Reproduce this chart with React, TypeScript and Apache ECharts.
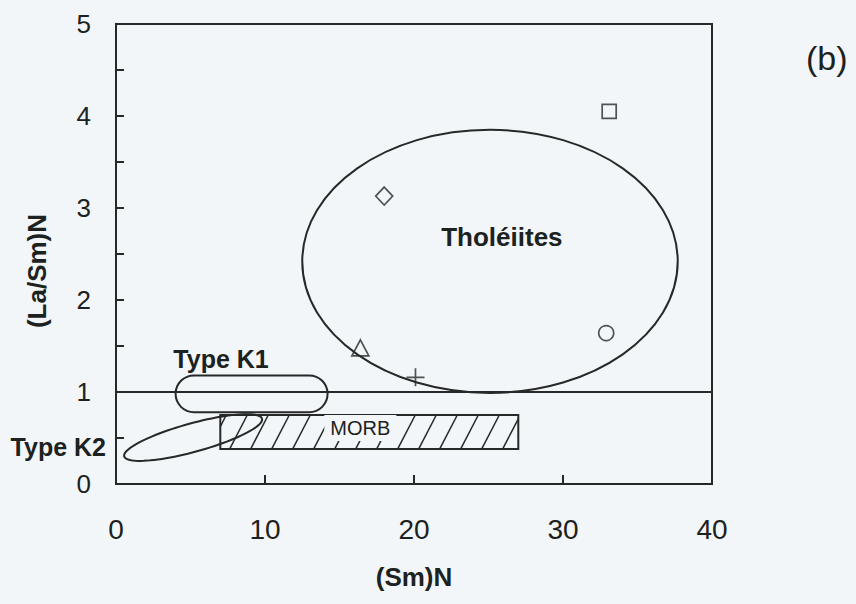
import React, { useEffect, useRef } from "react";
import * as echarts from "echarts";

// Axis ranges and ticks
const xTicks = [0, 10, 20, 30, 40];
const yTicks = [0, 1, 2, 3, 4, 5];

// Samples: [(Sm)N, (La/Sm)N]
const squareSample = [[33.1, 4.05]];
const diamondSample = [[18.0, 3.13]];
const circleSample = [[32.9, 1.64]];
const triangleSample = [[16.4, 1.48]];
const plusSample = [[20.1, 1.16]];

// Reference fields, in data units
const tholeiiteCentre = [25.1, 2.42];
const tholeiiteRadii = [12.6, 1.43];
const k1Box = [4.0, 0.78, 14.2, 1.18]; // xMin, yMin, xMax, yMax
const morbBox = [7.0, 0.38, 27.0, 0.75]; // xMin, yMin, xMax, yMax
const k2Tips = [[0.55, 0.3], [9.8, 0.71]]; // ends of the long axis
const k2Flatness = 0.2; // minor / major
const chondriteLine = [[0, 1], [40, 1]];

// Field names and where they sit
const fieldNames = ["Tholéiites", "Type K1", "Type K2", "MORB"];
const fieldNameAt = [[25.9, 2.68], [7.05, 1.36], [-0.27, 0.4], [16.4, 0.61]];

const INK = "#262928";
const TEXT = "#1c2220";
const PAPER = "#f3f6f8";
const FONT = "'Liberation Sans', Arial, Helvetica, sans-serif";

function renderFields(params: any, api: any) {
  const children: any[] = [];
  const stroke = { stroke: INK, lineWidth: 2, fill: null };

  // (La/Sm)N = 1 reference line
  const l0 = api.coord(chondriteLine[0]);
  const l1 = api.coord(chondriteLine[1]);
  children.push({
    type: "line",
    shape: { x1: l0[0], y1: l0[1], x2: l1[0], y2: l1[1] },
    style: { stroke: INK, lineWidth: 2 },
  });

  // MORB: hatched box
  const m0 = api.coord([morbBox[0], morbBox[3]]);
  const m1 = api.coord([morbBox[2], morbBox[1]]);
  const left = m0[0], top = m0[1], right = m1[0], bottom = m1[1];
  const h = bottom - top;
  const lean = h * 0.52;
  const step = 21;
  for (let s = left - lean + 6; s < right; s += step) {
    let xa = s, ya = bottom;
    let xb = s + lean, yb = top;
    if (xa < left) {
      ya = bottom - ((left - s) / lean) * h;
      xa = left;
    }
    if (xb > right) {
      yb = bottom - ((right - s) / lean) * h;
      xb = right;
    }
    if (xb <= xa) continue;
    children.push({
      type: "line",
      shape: { x1: xa, y1: ya, x2: xb, y2: yb },
      style: { stroke: INK, lineWidth: 1.5 },
    });
  }
  children.push({
    type: "rect",
    shape: { x: left, y: top, width: right - left, height: h },
    style: { ...stroke },
  });

  // Type K1: rounded box
  const k0 = api.coord([k1Box[0], k1Box[3]]);
  const k1 = api.coord([k1Box[2], k1Box[1]]);
  const kh = k1[1] - k0[1];
  children.push({
    type: "rect",
    shape: { x: k0[0], y: k0[1], width: k1[0] - k0[0], height: kh, r: kh / 2 },
    style: { ...stroke },
  });

  // Type K2: tilted ellipse
  const t0 = api.coord(k2Tips[0]);
  const t1 = api.coord(k2Tips[1]);
  const cx = (t0[0] + t1[0]) / 2;
  const cy = (t0[1] + t1[1]) / 2;
  const dx = t1[0] - t0[0];
  const dy = t1[1] - t0[1];
  const a = Math.hypot(dx, dy) / 2;
  const b = a * k2Flatness;
  const ux = dx / (2 * a), uy = dy / (2 * a);
  const pts: number[][] = [];
  for (let i = 0; i < 96; i++) {
    const t = (i / 96) * Math.PI * 2;
    const p = a * Math.cos(t);
    const q = b * Math.sin(t);
    pts.push([cx + p * ux - q * uy, cy + p * uy + q * ux]);
  }
  children.push({ type: "polygon", shape: { points: pts }, style: { ...stroke } });

  // Tholeiite ellipse
  const c = api.coord(tholeiiteCentre);
  const r = api.size(tholeiiteRadii);
  children.push({
    type: "ellipse",
    shape: { cx: c[0], cy: c[1], rx: r[0], ry: r[1] },
    style: { ...stroke },
  });

  // Field names
  const nameStyles = [
    { font: `bold 26px ${FONT}`, align: "center" },
    { font: `bold 25px ${FONT}`, align: "center" },
    { font: `bold 25px ${FONT}`, align: "right", backgroundColor: PAPER, padding: [3, 6, 3, 0] },
    { font: `20px ${FONT}`, align: "center", backgroundColor: PAPER, padding: [3, 6, 3, 6] },
  ];
  fieldNames.forEach((name, i) => {
    const p = api.coord(fieldNameAt[i]);
    children.push({
      type: "text",
      style: {
        text: name,
        x: p[0],
        y: p[1],
        fill: TEXT,
        verticalAlign: "middle",
        ...nameStyles[i],
      },
    });
  });

  return { type: "group", children };
}

export default function App() {
  const ref = useRef<HTMLDivElement>(null);

  useEffect(() => {
    if (!ref.current) return;
    const chart = echarts.init(ref.current, undefined, { renderer: "svg" });
    const axisLine = { show: true, lineStyle: { color: INK, width: 2 } };
    const markerStyle = { color: "transparent", borderColor: INK, borderWidth: 1.7 };

    chart.setOption({
      animation: false,
      backgroundColor: PAPER,
      grid: {
        left: 116,
        right: 144,
        top: 24,
        bottom: 120,
        show: true,
        borderColor: INK,
        borderWidth: 2,
        backgroundColor: "transparent",
      },
      graphic: [
        {
          type: "text",
          left: 806,
          top: 41,
          z: 100,
          style: { text: "(b)", font: `34px ${FONT}`, fill: TEXT },
        },
      ],
      xAxis: {
        type: "value",
        min: xTicks[0],
        max: xTicks[xTicks.length - 1],
        interval: xTicks[1] - xTicks[0],
        axisLine,
        axisTick: { show: true, inside: true, length: 9, lineStyle: { color: INK, width: 2 } },
        splitLine: { show: false },
        axisLabel: { margin: 31, fontSize: 28, color: TEXT, fontFamily: FONT },
        name: "(Sm)N",
        nameLocation: "middle",
        nameGap: 80,
        nameTextStyle: { fontSize: 26, fontWeight: "bold", color: TEXT, fontFamily: FONT },
      },
      yAxis: {
        type: "value",
        min: yTicks[0],
        max: yTicks[yTicks.length - 1],
        interval: yTicks[1] - yTicks[0],
        axisLine,
        axisTick: { show: true, inside: true, length: 8, lineStyle: { color: INK, width: 2 } },
        minorTick: { show: true, splitNumber: 2, length: 8, lineStyle: { color: INK, width: 2 } },
        splitLine: { show: false },
        minorSplitLine: { show: false },
        axisLabel: { margin: 25, fontSize: 26, color: TEXT, fontFamily: FONT },
        name: "(La/Sm)N",
        nameLocation: "middle",
        nameGap: 66,
        nameTextStyle: {
          fontSize: 26,
          fontWeight: "bold",
          color: TEXT,
          fontFamily: FONT,
          padding: [0, 34, 0, 0],
        },
      },
      series: [
        {
          type: "custom",
          renderItem: renderFields,
          data: [[0, 0]],
          clip: false,
          silent: true,
          z: 3,
        },
        { type: "scatter", symbol: "rect", symbolSize: 14, data: squareSample, itemStyle: markerStyle, z: 5 },
        { type: "scatter", symbol: "diamond", symbolSize: [17, 18], data: diamondSample, itemStyle: markerStyle, z: 5 },
        { type: "scatter", symbol: "circle", symbolSize: 15, data: circleSample, itemStyle: markerStyle, z: 5 },
        { type: "scatter", symbol: "triangle", symbolSize: [17, 16], data: triangleSample, itemStyle: markerStyle, z: 5 },
        {
          type: "scatter",
          symbol: "path://M0,5L10,5M5,0L5,10",
          symbolSize: 18,
          data: plusSample,
          itemStyle: markerStyle,
          z: 5,
        },
      ],
    });

    return () => chart.dispose();
  }, []);

  return (
    <div
      ref={ref}
      style={{ position: "fixed", left: 0, top: 0, width: 856, height: 604 }}
    />
  );
}
